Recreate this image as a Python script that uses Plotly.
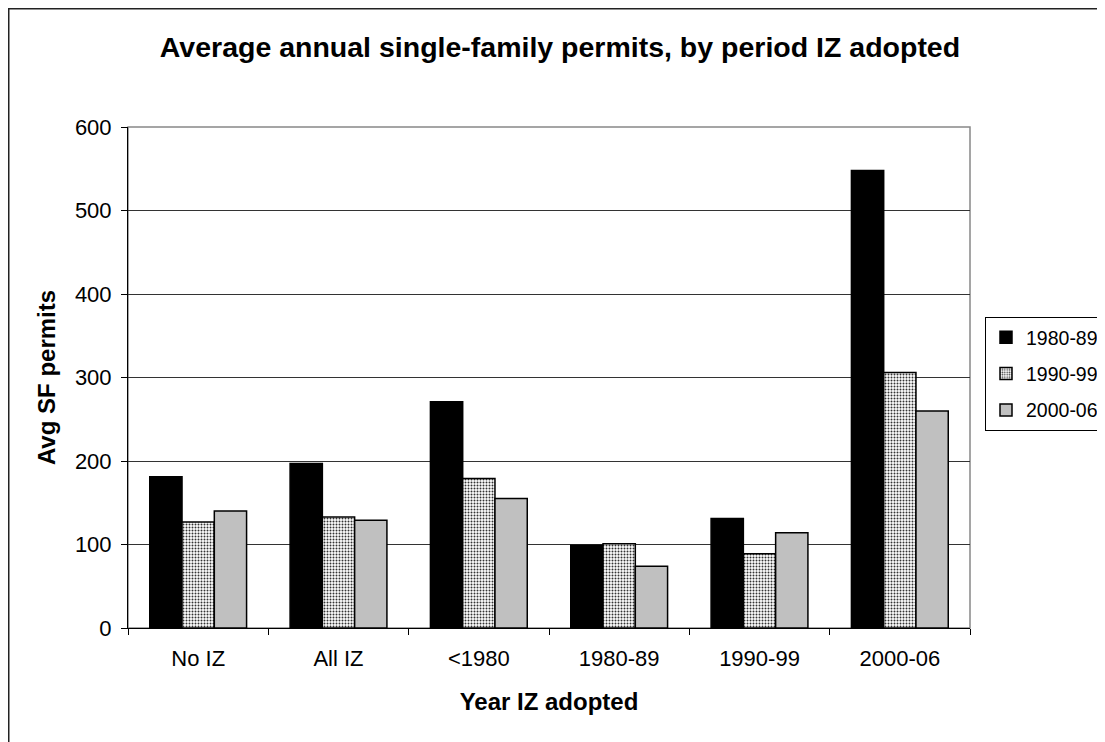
import plotly.graph_objects as go

categories = ["No IZ", "All IZ", "<1980", "1980-89", "1990-99", "2000-06"]
series_names = ["1980-89", "1990-99", "2000-06"]
vals_1980s = [181, 197, 271, 99, 131, 548]
vals_1990s = [127, 133, 179, 101, 89, 306]
vals_2000s = [140, 129, 155, 74, 114, 260]
y_ticks = [0, 100, 200, 300, 400, 500, 600]

# page body has an 8px margin, so figure coords = screen coords - 8
W, H = 1105, 742
L, T = 120, 119
PW, PH = 842, 501
R = W - L - PW
B = H - T - PH
PB = T + PH  # plot bottom in figure px


def px(fx):
    return (fx - L) / PW


def py(fy):
    return (PB - fy) / PH


fig = go.Figure()
fig.add_trace(go.Bar(
    x=categories, y=vals_1980s, name=series_names[0], legendgroup="a",
    marker=dict(color="black", line=dict(color="black", width=1.5)),
))
fig.add_trace(go.Bar(
    x=categories, y=vals_1990s, name=series_names[1], legendgroup="b",
    marker=dict(color="white", line=dict(color="black", width=1.5),
                pattern=dict(shape=".", fgcolor="#333", bgcolor="white",
                             size=3, solidity=0.35, fillmode="replace")),
))
fig.add_trace(go.Bar(
    x=categories, y=vals_2000s, name=series_names[2], legendgroup="c",
    marker=dict(color="#c0c0c0", line=dict(color="black", width=1.5)),
))

# outer chart frame
fig.add_shape(type="rect", xref="paper", yref="paper",
              x0=px(0), x1=px(W + 20), y0=py(H + 20), y1=py(0),
              line=dict(color="#222", width=3), layer="below")
# gray plot-area frame
fig.add_shape(type="rect", xref="paper", yref="paper", x0=0, x1=1, y0=0, y1=1,
              line=dict(color="#888", width=1.5), layer="below")

fig.update_layout(
    width=W, height=H,
    margin=dict(l=L, r=R, t=T, b=B, autoexpand=False),
    paper_bgcolor="white", plot_bgcolor="white",
    barmode="group", bargap=0.31, bargroupgap=0,
    font=dict(family="Liberation Sans, Arial", size=22, color="black"),
    title=dict(text="<b>Average annual single-family permits, by period IZ adopted</b>",
               x=552 / W, xanchor="center", y=1 - 39 / H, yanchor="middle",
               font=dict(size=28.5)),
    legend=dict(x=px(977), xanchor="left", y=py(309), yanchor="top",
                bordercolor="black", borderwidth=1, bgcolor="white",
                tracegroupgap=8, font=dict(size=19.5), traceorder="grouped",
                itemwidth=30),
    showlegend=True,
)
fig.update_xaxes(
    type="category", tickson="boundaries", ticks="outside", ticklen=6,
    tickcolor="black", showline=True, linecolor="black", linewidth=1,
    showgrid=False, ticklabelstandoff=11,
    title=dict(text="<b>Year IZ adopted</b>", font=dict(size=24), standoff=22),
    tickfont=dict(size=22),
)
fig.update_yaxes(
    range=[0, 600], tickvals=y_ticks, ticks="outside", ticklen=6, tickcolor="black",
    showline=True, linecolor="black", linewidth=1,
    showgrid=True, gridcolor="#333", gridwidth=1, zeroline=False,
    ticklabelstandoff=5,
    title=dict(text="<b>Avg SF permits</b>", font=dict(size=24), standoff=12),
    tickfont=dict(size=22),
)

fig.write_html("out.html")
